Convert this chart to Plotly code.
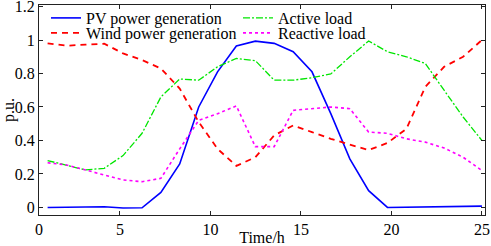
import plotly.graph_objects as go

time_h = [1, 2.04, 3.09, 4.13, 5.17, 6.22, 7.26, 8.3, 9.35, 10.39, 11.43, 12.48,
          13.52, 14.57, 15.61, 16.65, 17.7, 18.74, 19.78, 20.83, 21.87, 22.91, 23.96, 25]

pv_power = [0.0, 0.0, 0.0, 0.004, -0.003, -0.002, 0.09, 0.26, 0.6, 0.81, 0.964, 0.993,
            0.98, 0.93, 0.81, 0.56, 0.29, 0.1, 0.0, 0.002, 0.004, 0.005, 0.007, 0.008]

wind_power = [0.98, 0.966, 0.972, 0.978, 0.92, 0.88, 0.83, 0.71, 0.51, 0.35, 0.248, 0.3,
              0.43, 0.49, 0.45, 0.41, 0.375, 0.343, 0.385, 0.47, 0.72, 0.84, 0.9, 1.0]

active_load = [0.28, 0.25, 0.224, 0.234, 0.31, 0.443, 0.66, 0.767, 0.76, 0.84, 0.89, 0.877,
               0.76, 0.76, 0.775, 0.797, 0.9, 0.994, 0.93, 0.9, 0.86, 0.7, 0.54, 0.4]

reactive_load = [0.267, 0.254, 0.224, 0.194, 0.164, 0.154, 0.174, 0.35, 0.52, 0.56, 0.606, 0.363,
                 0.363, 0.58, 0.59, 0.6, 0.59, 0.45, 0.443, 0.41, 0.39, 0.355, 0.3, 0.22]

x_tick_vals = [0.525, 5, 10, 15, 20, 25]
x_tick_text = ["0", "5", "10", "15", "20", "25"]
y_tick_vals = [0, 0.2, 0.4, 0.6, 0.8, 1, 1.2]
y_tick_text = ["0", "0.2", "0.4", "0.6", "0.8", "1", "1.2"]

FONT = "Liberation Serif"

fig = go.Figure()
fig.add_trace(go.Scatter(x=time_h, y=pv_power, mode="lines", name="PV power generation",
                         line=dict(color="#0000ff", width=1.6, dash="solid"), legend="legend"))
fig.add_trace(go.Scatter(x=time_h, y=wind_power, mode="lines", name="Wind power generation",
                         line=dict(color="#ff0000", width=1.8, dash="6px,5px"), legend="legend2"))
fig.add_trace(go.Scatter(x=time_h, y=active_load, mode="lines", name="Active load",
                         line=dict(color="#00e600", width=1.3, dash="7px,2px,2px,2px"), legend="legend3"))
fig.add_trace(go.Scatter(x=time_h, y=reactive_load, mode="lines", name="Reactive load",
                         line=dict(color="#ff00ff", width=1.6, dash="dot"), legend="legend4"))

# plot area in pixels: x 39..485, y 5..215
def px_x(p):
    return (p - 39) / 446

def px_y(p):
    return (215 - p) / 210

leg_common = dict(bgcolor="rgba(0,0,0,0)", borderwidth=0, font=dict(family=FONT, size=16, color="#000"),
                  xref="paper", yref="paper", xanchor="left", yanchor="middle",
                  itemwidth=30, tracegroupgap=0)
fig.update_layout(
    legend=dict(x=px_x(46), y=px_y(18), **leg_common),
    legend2=dict(x=px_x(46), y=px_y(33), **leg_common),
    legend3=dict(x=px_x(238), y=px_y(18), **leg_common),
    legend4=dict(x=px_x(238), y=px_y(33), **leg_common),
)

axis_common = dict(showline=True, linecolor="#222", linewidth=1, mirror="ticks", ticks="inside",
                   ticklen=4, tickcolor="#222", showgrid=False, zeroline=False,
                   ticklabeloverflow="allow",
                   tickfont=dict(family=FONT, size=16, color="#000"))

fig.update_xaxes(range=[0.525, 25.17], tickvals=x_tick_vals, ticktext=x_tick_text,
                 title=dict(text="Time/h", font=dict(family=FONT, size=16, color="#000"), standoff=0),
                 **axis_common)
fig.update_yaxes(range=[-0.045, 1.209], tickvals=y_tick_vals, ticktext=y_tick_text,
                 title=dict(text="p.u.", font=dict(family=FONT, size=16, color="#000"), standoff=4),
                 **axis_common)

fig.update_layout(width=491, height=246, margin=dict(l=39, r=6, t=5, b=31, autoexpand=False),
                  paper_bgcolor="white", plot_bgcolor="white", showlegend=True,
                  font=dict(family=FONT, size=16, color="#000"))

fig.write_html("out.html", config={"displayModeBar": False},
               post_script="document.body.style.margin='0';document.body.style.padding='0';")
